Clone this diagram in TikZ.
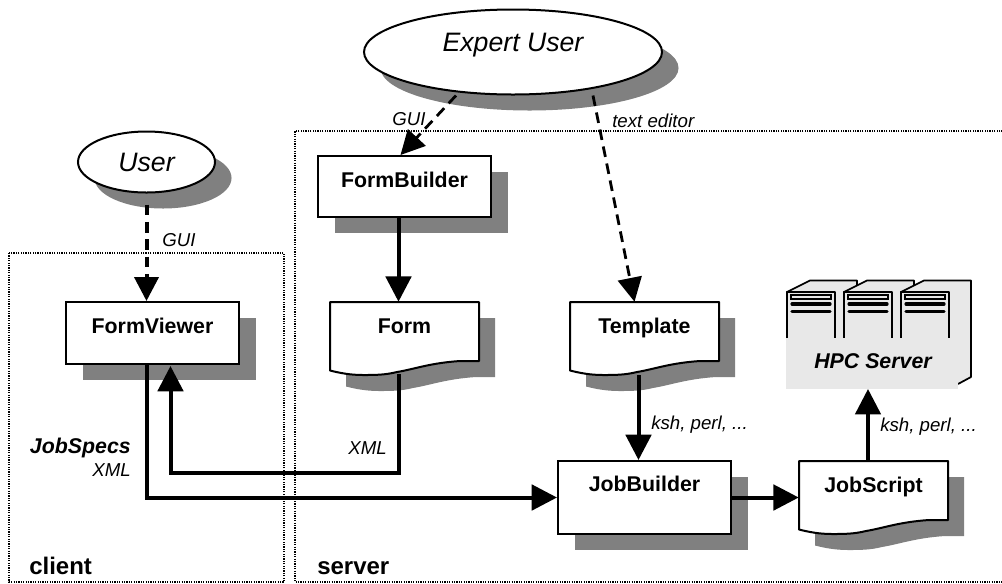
\documentclass[tikz,border=0pt]{standalone}
\usepackage{fontspec}
\setmainfont{Liberation Sans}
\usetikzlibrary{calc}
\usetikzlibrary{shapes.geometric}
\usetikzlibrary{shadows}
\usetikzlibrary{arrows.meta}
\definecolor{shadowGray}{gray}{0.5}
\definecolor{serverGray}{gray}{0.91}
\def\docOutline{(0,0) -- (149,0) -- (149,59) -- (130,59) .. controls (100,61) and (85,67) .. (67,70) .. controls (55,73) and (45,73) .. (33,73) .. controls (20,73) and (10,71) .. (0,68.5) -- cycle}
\tikzset{
  dropShadow/.style = {general shadow={fill=shadowGray, shadow xshift=12.4pt, shadow yshift=-12pt}},
  proc/.style = {draw=black, fill=white, line width=1.5pt, rectangle, inner sep=0pt, font=\bfseries\fontsize{16}{16}\selectfont, text height=10pt, text depth=#1, minimum width=173*0.75pt, dropShadow},
  doc/.style = {inner sep=0pt, font=\bfseries\fontsize{16}{16}\selectfont, text height=10pt, text depth=18pt, minimum width=149*0.75pt, minimum height=73*0.75pt},
  actor/.style = {draw=black, fill=white, line width=1.5pt, ellipse, inner sep=0pt, font=\itshape\fontsize{20}{20}\selectfont, dropShadow},
  region/.style = {draw=black, line width=0.9pt, dash pattern=on 0.9pt off 0.9pt},
  regionName/.style = {font=\bfseries\fontsize{18}{18}\selectfont, inner sep=0pt},
  tag/.style = {font=\itshape\fontsize{14}{14}\selectfont, inner sep=0pt},
  flow/.style = {line width=#1, -{Triangle[length=19pt,width=19pt]}},
  flow/.default = 3pt,
  dashFlow/.style = {line width=#1, dash pattern=on 8pt off 5pt, -{Triangle[length=18pt,width=18pt]}},
  bay/.style = {draw=black, line width=1.3pt, fill=serverGray, line join=round},
  slotBar/.style = {line width=2.4pt, line cap=round}
}
\newcommand{\docnode}[3]{%
  % #1: node name
  % #2: top left corner
  % #3: text
  \begin{scope}[shift={(#2)}]
    \fill[shadowGray, shift={(16,16)}] \docOutline;
    \draw[fill=white, line width=1.5pt, line join=round] \docOutline;
    \node[doc] (#1) at (74.5,36.5) {#3};
  \end{scope}
}
\newcommand{\serverbay}[1]{%
  % #1: left edge of the front face
  \begin{scope}[shift={(#1,292)}]
    \draw[bay] (0,50) -- (0,0) -- (23,-11.5) -- (70,-11.5) -- (70,50) -- cycle;
    \draw[bay] (0,50) -- (0,0) -- (48,0) -- (48,50) -- cycle;
    \draw[black, line width=1pt, fill=serverGray] (4,3) rectangle (44,7);
    \draw[slotBar] (5,12) -- (43,12);
    \draw[slotBar] (5,19.5) -- (43,19.5);
  \end{scope}
}
\begin{document}
\begin{tikzpicture}[x=0.75pt,y=-0.75pt]

    \useasboundingbox (0,0) rectangle (1002,583);

    % Regions
    \draw[region] (9,253) rectangle (284,582);
    \draw[region] (1005,131) -- (295,131) -- (295,582) -- (1005,582);
    \node[regionName, anchor=base west] (clientName) at (29,574) {client};
    \node[regionName, anchor=base west] (serverName) at (317,574) {server};

    % Server rack
    \serverbay{787}
    \serverbay{844}
    \serverbay{901}
    \fill[serverGray] (950,330) -- (971,330) -- (971,377) -- (958,384) -- (950,384) -- cycle;
    \draw[black, line width=1.3pt, line join=round] (971,325) -- (971,377) -- (958,384);
    \fill[serverGray] (786,338) rectangle (958,389);
    \node[font=\bfseries\itshape\fontsize{16}{16}\selectfont, inner sep=0pt] (hpc) at (873,361) {HPC Server};
    \coordinate (hpcBase) at (868,389);

    % Actors
    \node[actor, minimum width=137*0.75pt, minimum height=61*0.75pt] (user) at (146.5,162) {User};
    \node[actor, minimum width=298*0.75pt, minimum height=85*0.75pt] (expert) at (513,52) {};
    \node[font=\itshape\fontsize{20}{20}\selectfont, inner sep=0pt] (expertName) at (513,45) {Expert User};

    % Boxes
    \node[proc=9pt, minimum height=61*0.75pt] (formBuilder) at (404.5,186.5) {FormBuilder};
    \node[proc=9pt, minimum height=62*0.75pt] (formViewer) at (152.5,333) {FormViewer};
    \node[proc=19pt, minimum height=73*0.75pt] (jobBuilder) at (644.5,497.5) {JobBuilder};
    \docnode{form}{330,302}{Form}
    \docnode{template}{570,302}{Template}
    \docnode{jobScript}{799,461}{JobScript}

    % Connectors
    \draw[dashFlow=3pt] ($(user.south)+(0,11)$) -- (user.south |- formViewer.north);
    \draw[dashFlow=2.1pt] ($(expert.south)+(-57,0)$) -- ($(formBuilder.north)+(-4,0)$);
    \draw[dashFlow=2.1pt] ($(expert.south)+(80,0)$) -- ($(template.north)+(-10,0)$);
    \draw[flow] ($(formBuilder.south)+(-6,0)$) -- ($(form.north)+(-6,0)$);
    \draw[flow] ($(template.south)+(-6,0)$) -- ($(jobBuilder.north)+(-6,0)$);
    \draw[flow] (form.south -| formBuilder.south) ++(-6,-1) -- ++(0,98.5) -| ($(formViewer.south)+(18,1)$);
    \draw[flow] ($(formViewer.south)+(-6,0)$) |- (jobBuilder.west);
    \draw[flow] (jobBuilder.east) -- (jobBuilder.east -| jobScript.west);
    \draw[flow=2.6pt] (jobScript.north -| hpcBase) -- (hpcBase);

    % Labels
    \node[tag, anchor=base west] (guiUser) at (162,246) {GUI};
    \node[tag, anchor=base west] (guiExpert) at (392,125) {GUI};
    \node[tag, anchor=base west] (editorTag) at (612,127) {text editor};
    \node[font=\bfseries\itshape\fontsize{16}{16}\selectfont, inner sep=0pt, anchor=base east] (jobSpecs) at (131,453) {JobSpecs};
    \node[tag, anchor=base east] (xmlClient) at (131,476) {XML};
    \node[tag, anchor=base east] (xmlServer) at (387,454) {XML};
    \node[tag, anchor=base west] (kshBuilder) at (651,429) {ksh, perl, ...};
    \node[tag, anchor=base west] (kshScript) at (880,431) {ksh, perl, ...};

\end{tikzpicture}
\end{document}
